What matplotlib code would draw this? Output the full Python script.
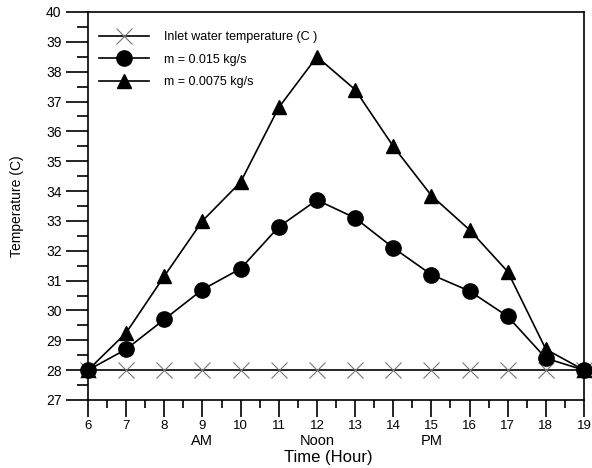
import matplotlib.pyplot as plt
from matplotlib.ticker import MultipleLocator

plt.rcParams['font.family'] = ['Liberation Sans', 'DejaVu Sans']

# Datos
horas = [6, 7, 8, 9, 10, 11, 12, 13, 14, 15, 16, 17, 18, 19]
t_entrada = [28] * 14
t_m015 = [28.0, 28.7, 29.7, 30.7, 31.4, 32.8, 33.7, 33.1, 32.1, 31.2, 30.65, 29.8, 28.4, 28.0]
t_m0075 = [28.0, 29.25, 31.15, 33.0, 34.3, 36.8, 38.5, 37.4, 35.5, 33.85, 32.7, 31.3, 28.7, 28.0]
etiquetas = ["Inlet water temperature (C )", "m = 0.015 kg/s", "m = 0.0075 kg/s"]

fig = plt.figure(figsize=(5.92, 4.68), dpi=100)
ax = fig.add_axes([0.1486, 0.1453, 0.8379, 0.8291])

ax.plot(horas, t_entrada, color='black', lw=1.2, marker='x', ms=11,
        mec='#777777', mew=0.8, label=etiquetas[0], clip_on=False, zorder=3)
ax.plot(horas, t_m015, color='black', lw=1.2, marker='o', ms=11,
        label=etiquetas[1], clip_on=False, zorder=4)
ax.plot(horas, t_m0075, color='black', lw=1.2, marker='^', ms=9.5,
        label=etiquetas[2], clip_on=False, zorder=4)

ax.set_xlim(6, 19)
ax.set_ylim(27, 40)
ax.xaxis.set_major_locator(MultipleLocator(1))
ax.xaxis.set_minor_locator(MultipleLocator(0.5))
ax.yaxis.set_major_locator(MultipleLocator(1))
ax.yaxis.set_minor_locator(MultipleLocator(0.5))

ax.tick_params(axis='y', which='major', direction='out', length=16, width=1.2, labelsize=10, pad=3)
ax.tick_params(axis='y', which='minor', direction='out', length=8, width=1.2)
ax.tick_params(axis='x', which='major', direction='out', length=12, width=1.2, labelsize=9.5, pad=2.5)
ax.tick_params(axis='x', which='minor', direction='out', length=6, width=1.2)
for s in ax.spines.values():
    s.set_linewidth(1.2)

ax.set_ylabel("Temperature (C)", fontsize=10, labelpad=16)
ax.set_xlabel("Time (Hour)", fontsize=12, va='center')
ax.xaxis.set_label_coords(0.484, -0.147)

# AM / Noon / PM
for xx, txt in [(9, "AM"), (12, "Noon"), (15, "PM")]:
    ax.text(xx, -0.105, txt, transform=ax.get_xaxis_transform(), ha='center',
            va='center', fontsize=10.5)

ax.legend(loc='upper left', bbox_to_anchor=(0.0, 0.98), frameon=False,
          fontsize=9, handlelength=4.0, labelspacing=0.85, handletextpad=1.2,
          borderaxespad=0.5)

fig.savefig("out.png", dpi=100)
